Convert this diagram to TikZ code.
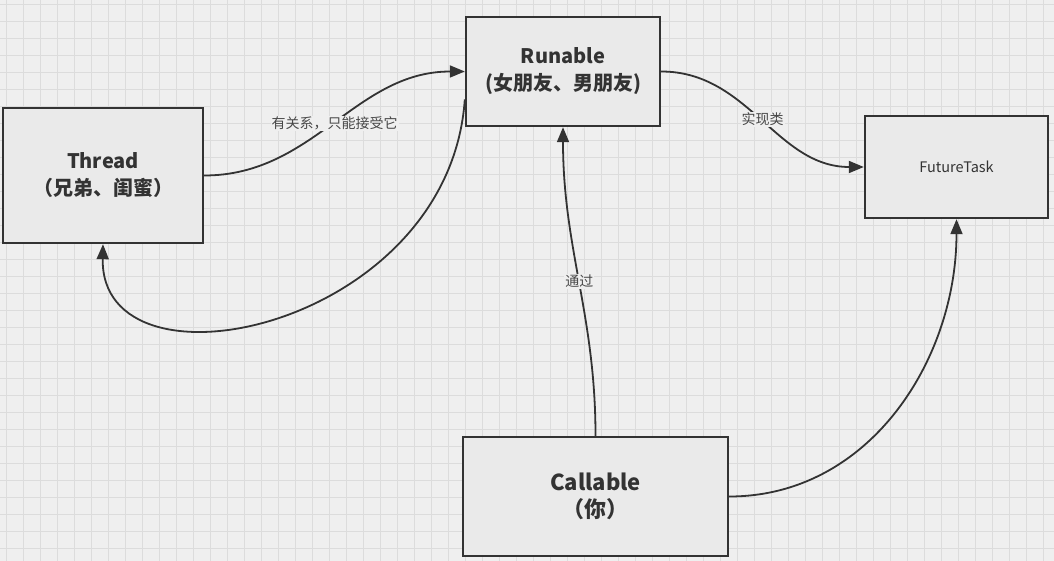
\documentclass[tikz,border=0pt]{standalone}
\usepackage{fontspec}
\setmainfont{Noto Sans CJK SC}
\usepackage{tikz}
\usetikzlibrary{positioning, arrows.meta}

\definecolor{paper}{HTML}{EFEFEF}
\definecolor{gridline}{HTML}{DCDCDC}
\definecolor{boxfill}{HTML}{EAEAEA}
\definecolor{ink}{HTML}{333333}

\begin{document}
\begin{tikzpicture}[x=1pt, y=1pt,
    box/.style={draw=ink, fill=boxfill, line width=2.4pt, text=ink, align=center, inner sep=0pt},
    title/.style={font=\bfseries\fontsize{20}{27}\selectfont},
    link/.style={draw=ink, line width=1.8pt, -{Triangle[length=15pt, width=12pt]}},
    tag/.style={fill=paper, text=ink!90, inner sep=1pt, font=\fontsize{14}{16}\selectfont}]
      \useasboundingbox (0,0) rectangle (1054,-561);
      % Background
      \fill[paper] (0,0) rectangle (1054,-561);
      \foreach \k in {0,...,61}
        \draw[gridline, line width=0.8pt] ({6.7+17*\k},0) -- ({6.7+17*\k},-561);
      \foreach \k in {0,...,32}
        \draw[gridline, line width=0.8pt] (0,{-4.5-17*\k}) -- (1054,{-4.5-17*\k});

      % Boxes
      \node[box, title, minimum width=200pt, minimum height=135pt] (thread) at
  (103,-175.5) {Thread\\（兄弟、闺蜜）};
      \node[box, title, minimum width=194pt, minimum height=109pt] (runable) at
  (563,-71.5) {Runable\\(女朋友、男朋友)};
      \node[box, minimum width=183pt, minimum height=102pt,
  font=\fontsize{14.5}{16}\selectfont] (future) at (956.5,-167) {FutureTask};
      \node[box, font=\bfseries\fontsize{22}{27}\selectfont, minimum width=265pt,
  minimum height=119pt] (callable) at (595.5,-496.5) {Callable\\（你）};

      % Arrows
      \draw[link] (thread.east) to[out=0, in=180]
  node[tag] {有关系，只能接受它} (runable.west);
      \draw[link] ([yshift=-28pt]runable.west) .. controls +(-16,-230) and
  +(-3,-157) .. (thread.south);
      \draw[link] (runable.east) to[out=0, in=180]
  node[tag] {实现类} (future.west);
      \draw[link] (callable.north) to[out=90, in=-90]
  node[tag] {通过} (runable.south);
      \draw[link] (callable.east) to[out=0, in=-90] (future.south);
  \end{tikzpicture}
\end{document}
